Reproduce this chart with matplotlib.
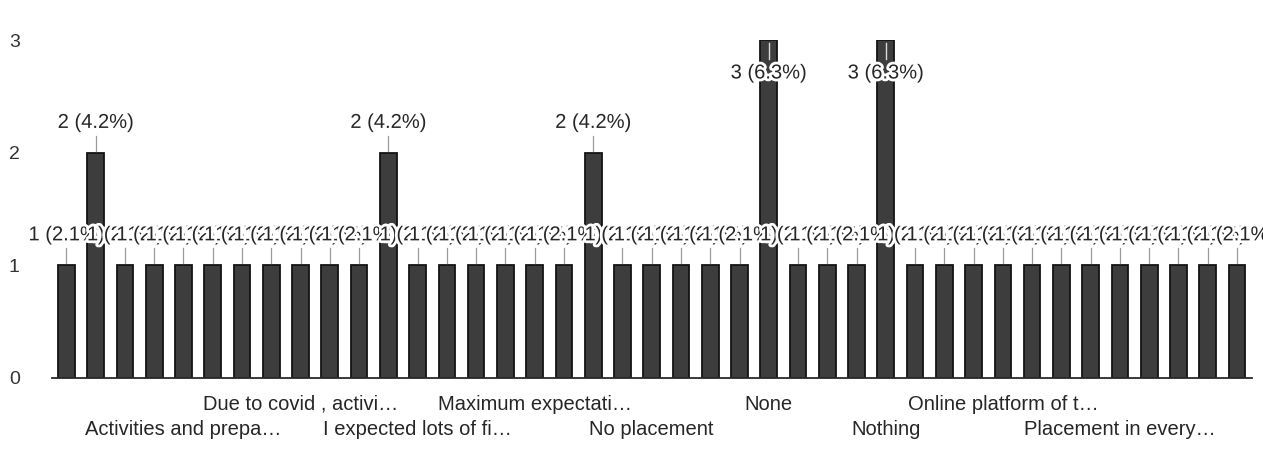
import math
import matplotlib
matplotlib.use("Agg")
import matplotlib.pyplot as plt
import matplotlib.patheffects as pe
from matplotlib.transforms import blended_transform_factory

# Response counts per answer (alphabetical order of answers)
counts = [1, 2, 1, 1, 1, 1, 1, 1, 1, 1, 1, 2, 1, 1, 1, 1, 1, 1, 2, 1,
          1, 1, 1, 1, 3, 1, 1, 1, 3, 1, 1, 1, 1, 1, 1, 1, 1, 1, 1, 1, 1]

# Category axis labels that are shown (every fourth answer)
label_positions = [4, 8, 12, 16, 20, 24, 28, 32, 36]
label_texts = ["Activities and prepa…", "Due to covid , activi…",
               "I expected lots of fi…", "Maximum expectati…",
               "No placement", "None", "Nothing",
               "Online platform of t…", "Placement in every…"]

y_ticks = [0, 1, 2, 3]

FONT = "Liberation Sans"
BAR_FACE = "#3d3d3d"
BAR_EDGE = "#141414"
TEXT = "#262626"
LEADER = "#9a9a9a"

total = sum(counts)


def pct_label(c):
    pct = math.floor(1000 * c / total + 0.5) / 10
    return f"{c} ({pct:.1f}%)"


fig = plt.figure(figsize=(12.63, 4.75), dpi=100)
ax = fig.add_axes([0.041, 0.205, 0.950, 0.710])

x = list(range(len(counts)))
ax.bar(x, counts, width=0.57, color=BAR_FACE, edgecolor=BAR_EDGE,
       linewidth=1.3, zorder=2)

ax.set_xlim(-0.5, len(counts) - 0.5)
ax.set_ylim(0, y_ticks[-1])

# value annotations with leader lines; later labels are drawn over earlier ones
halo = [pe.withStroke(linewidth=4, foreground="white")]
ymax = y_ticks[-1]
for i, c in enumerate(counts):
    if c + 0.3 <= ymax:
        ty = c + 0.27
        ax.plot([i, i], [c + 0.02, c + 0.15], color=LEADER, lw=0.9,
                zorder=3 + i * 0.01)
    else:
        ty = c - 0.29
        ax.plot([i, i], [c - 0.02, c - 0.17], color="#d8d8d8", lw=1.0,
                zorder=3 + i * 0.01)
    ax.text(i, ty, pct_label(c), ha="center", va="center", fontsize=14.5,
            family=FONT, color=TEXT, path_effects=halo, zorder=4 + i * 0.01)

# staggered category labels in two rows
trans = blended_transform_factory(ax.transData, ax.transAxes)
for k, (pos, txt) in enumerate(zip(label_positions, label_texts)):
    offset = -37 if k % 2 == 0 else -19
    ax.annotate(txt, xy=(pos, 0), xycoords=trans, xytext=(0, offset),
                textcoords="offset points", ha="center", va="center",
                fontsize=14.5, family=FONT, color=TEXT)

ax.set_xticks([])
ax.set_yticks(y_ticks)
ax.set_yticklabels([str(t) for t in y_ticks], family=FONT, fontsize=14,
                   color="#333333")
ax.tick_params(axis="y", length=0, pad=23)

for side in ("top", "right", "left"):
    ax.spines[side].set_visible(False)
ax.spines["bottom"].set_color("#2a2a2a")
ax.spines["bottom"].set_linewidth(1.3)
ax.spines["bottom"].set_zorder(5)

fig.savefig("out.png", dpi=100, facecolor="white")
